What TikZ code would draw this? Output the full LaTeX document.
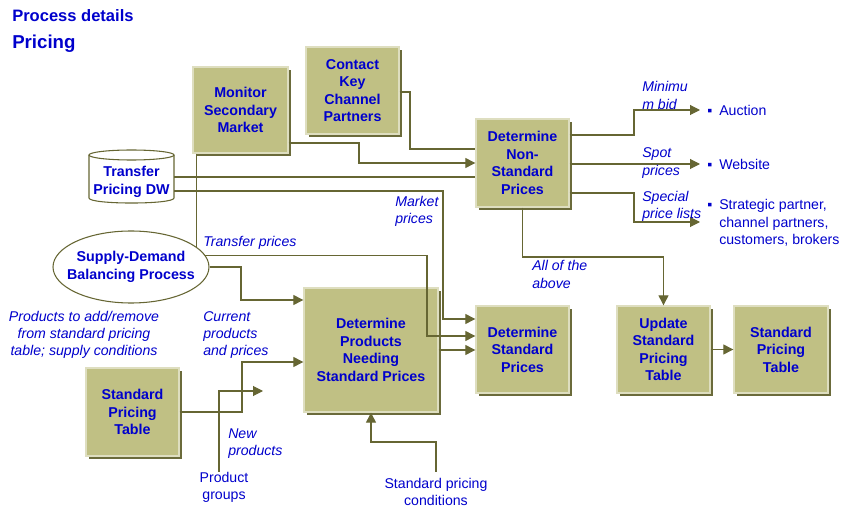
\documentclass[tikz,border=0pt]{standalone}
\usepackage{fontspec}
\setmainfont{Liberation Sans}
\usetikzlibrary{arrows.meta,shadows,shapes.geometric}
\definecolor{boxfill}{RGB}{192,192,132}
\definecolor{boxshade}{RGB}{107,107,59}
\definecolor{boxlight}{RGB}{222,222,192}
\definecolor{linecol}{RGB}{102,102,51}
\definecolor{textblue}{RGB}{0,0,204}
\tikzset{
  every node/.style={text=textblue, inner sep=0pt, font=\fontsize{10.6}{13}\selectfont},
  boxsize/.style 2 args={minimum width=#1*0.75pt, minimum height=#2*0.75pt},
  procbox/.style={fill=boxfill, draw=boxlight, line width=1pt, align=center,
    font=\fontsize{10.7}{13.1}\selectfont\bfseries,
    drop shadow={shadow xshift=2.25pt, shadow yshift=-2.25pt, fill=boxshade, opacity=1}},
  procell/.style={ellipse, draw=linecol, line width=0.8pt, fill=white},
  boldtxt/.style={align=center, font=\fontsize{10.7}{13.1}\selectfont\bfseries},
  lbl/.style={font=\fontsize{10.6}{13}\selectfont\itshape, align=left, anchor=west},
  txt/.style={align=center},
  conn/.style={draw=linecol, line width=0.8pt},
  arr/.style={conn, -{Triangle[length=7.5pt, width=7.5pt]}},
}
\begin{document}
\begin{tikzpicture}[x=0.75pt, y=-0.75pt]
\useasboundingbox (0,0) rectangle (850,520);
% titles
\node[anchor=west, font=\fontsize{12.4}{14}\selectfont\bfseries] (ttl) at (12,16) {Process details};
\node[anchor=west, font=\fontsize{14}{16}\selectfont\bfseries] (sub) at (12,44) {Pricing};
% process boxes
\node[procbox, boxsize={95}{86}] (msm) at (240.5,110) {Monitor\\Secondary\\Market};
\node[procbox, boxsize={93}{87}] (ckc) at (352.5,90.5) {Contact\\Key\\Channel\\Partners};
\node[procbox, boxsize={93}{88}] (nsp) at (522.5,163) {Determine\\Non-\\Standard\\Prices};
\node[procbox, boxsize={134}{124}] (dpn) at (371,350) {Determine\\Products\\Needing\\Standard Prices};
\node[procbox, boxsize={93}{87}] (dsp) at (522.5,349.5) {Determine\\Standard\\Prices};
\node[procbox, boxsize={93}{87}] (usp) at (663.5,349.5) {Update\\Standard\\Pricing\\Table};
\node[procbox, boxsize={94}{87}] (spt) at (781,349.5) {Standard\\Pricing\\Table};
\node[procbox, boxsize={93}{88}] (spl) at (132.5,412) {Standard\\Pricing\\Table};
% data store
\draw[conn, fill=white] (89,155) -- (89,198) .. controls (89,204.7) and (174,204.7) .. (174,198) -- (174,155);
\draw[conn, fill=white] (131.5,155) ellipse [x radius=42.5, y radius=5];
\node[boldtxt, boxsize={85}{53}] (dw) at (131.5,182) {Transfer\\Pricing DW};
\node[procell, boxsize={156}{72}] (sdb) at (131,267) {};
\node[boldtxt] (sdbt) at (sdb.center) {Supply-Demand\\Balancing Process};
% free ends
\coordinate (auc) at (700,110);
\coordinate (web) at (700,164);
\coordinate (stp) at (700,222);
\coordinate (newp) at (263,391);
% outlets
\node[anchor=west] (auct) at (707,110) {\makebox[9pt][l]{▪}Auction};
\node[anchor=west] (webt) at (707,164) {\makebox[9pt][l]{▪}Website};
\node[anchor=west, align=left] (stpt) at (707,223) {\makebox[9pt][l]{▪}Strategic partner,\\\hspace*{9pt}channel partners,\\\hspace*{9pt}customers, brokers};
% sources
\node[txt] (pg) at (224,487.5) {Product\\groups};
\node[txt] (spc) at (436,492) {Standard pricing\\conditions};
% connectors
\draw[arr] (msm.east |- 0,143) -| (359,163) -- (nsp.west |- 0,163);
\draw[conn] (ckc.east |- 0,92) -| (410,149) -- (nsp.west |- 0,149);
\draw[conn] (dw.east |- 0,177) -- (nsp.west |- 0,177);
\draw[arr] (dw.east |- 0,191) -| (443,319) -- (dsp.west |- 0,319);
\draw[conn] (msm.south -| sdb.17) -- (sdb.17);
\draw[arr] (sdb.9) -| (427,336) -- (dsp.west |- 0,336);
\draw[arr] (sdb.east) -| (241,300) -- (dpn.west |- 0,300);
\draw[arr] (dpn.east) -- (dpn.east -| dsp.west);
\draw[arr] (spl.east) -| (242,362) -- (dpn.west |- 0,362);
\draw[arr] (pg.north -| 219,0) |- (newp);
\draw[arr] ([yshift=4.5pt]spc.north) |- (371,442) -- (dpn.south -| 371,0);
\draw[arr] (nsp.south) |- (usp.north |- 0,257) -- (usp.north);
\draw[arr] (usp.east) -- (spt.west);
\draw[arr] (nsp.east |- 0,135) -| (634,110) -- (auc);
\draw[arr] (nsp.east |- 0,164) -- (web);
\draw[arr] (nsp.east |- 0,193) -| (634,222) -- (stp);
% labels
\node[lbl] (lmin) at (642,95.5) {Minimu\\m bid};
\node[lbl] (lspot) at (642,163) {Spot\\prices};
\node[lbl] (lspec) at (642,206.5) {Special\\price lists};
\node[lbl] (lmkt) at (395,211.5) {Market\\prices};
\node[lbl] (ltrf) at (203,243) {Transfer prices};
\node[lbl] (lcur) at (203,335) {Current\\products\\and prices};
\node[lbl, align=center, anchor=center] (ladd) at (84,335) {Products to add/remove\\from standard pricing\\table; supply conditions};
\node[lbl] (lnew) at (228,443.5) {New\\products};
\node[lbl] (lall) at (532,274.5) {All of the\\above};
\end{tikzpicture}
\end{document}
